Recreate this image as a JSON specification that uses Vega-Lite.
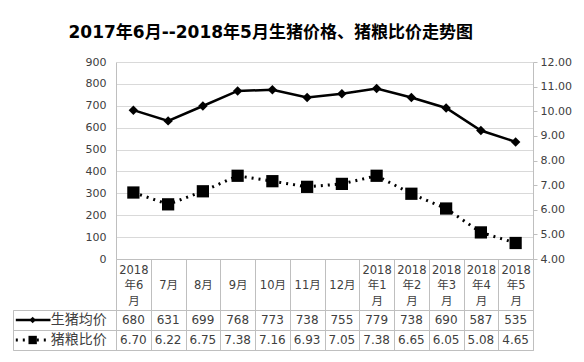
{
  "$schema": "https://vega.github.io/schema/vega-lite/v6.json",
  "padding": {"top": 24, "left": 12, "right": 2, "bottom": 2},
  "background": "white",
  "config": {
    "font": "DejaVu Sans, Noto Sans CJK SC",
    "axis": {"labelColor": "#404040", "labelFontSize": 11, "domainColor": "#bfbfbf", "gridColor": "#d9d9d9", "tickColor": "#bfbfbf"}
  },
  "title": {"text": "2017年6月--2018年5月生猪价格、猪粮比价走势图", "fontSize": 17, "fontWeight": "bold", "color": "#000000", "font": "DejaVu Sans, Noto Sans CJK SC", "anchor": "start", "dx": 56, "offset": 14},
  "datasets": {
    "main": [
      {"month": "2018年6月", "price": 680, "ratio": 6.70},
      {"month": "7月", "price": 631, "ratio": 6.22},
      {"month": "8月", "price": 699, "ratio": 6.75},
      {"month": "9月", "price": 768, "ratio": 7.38},
      {"month": "10月", "price": 773, "ratio": 7.16},
      {"month": "11月", "price": 738, "ratio": 6.93},
      {"month": "12月", "price": 755, "ratio": 7.05},
      {"month": "2018年1月", "price": 779, "ratio": 7.38},
      {"month": "2018年2月", "price": 738, "ratio": 6.65},
      {"month": "2018年3月", "price": 690, "ratio": 6.05},
      {"month": "2018年4月", "price": 587, "ratio": 5.08},
      {"month": "2018年5月", "price": 535, "ratio": 4.65}
    ],
    "table": [
      {"month": "2018年6月", "series": "生猪均价", "value": "680"},
      {"month": "7月", "series": "生猪均价", "value": "631"},
      {"month": "8月", "series": "生猪均价", "value": "699"},
      {"month": "9月", "series": "生猪均价", "value": "768"},
      {"month": "10月", "series": "生猪均价", "value": "773"},
      {"month": "11月", "series": "生猪均价", "value": "738"},
      {"month": "12月", "series": "生猪均价", "value": "755"},
      {"month": "2018年1月", "series": "生猪均价", "value": "779"},
      {"month": "2018年2月", "series": "生猪均价", "value": "738"},
      {"month": "2018年3月", "series": "生猪均价", "value": "690"},
      {"month": "2018年4月", "series": "生猪均价", "value": "587"},
      {"month": "2018年5月", "series": "生猪均价", "value": "535"},
      {"month": "2018年6月", "series": "猪粮比价", "value": "6.70"},
      {"month": "7月", "series": "猪粮比价", "value": "6.22"},
      {"month": "8月", "series": "猪粮比价", "value": "6.75"},
      {"month": "9月", "series": "猪粮比价", "value": "7.38"},
      {"month": "10月", "series": "猪粮比价", "value": "7.16"},
      {"month": "11月", "series": "猪粮比价", "value": "6.93"},
      {"month": "12月", "series": "猪粮比价", "value": "7.05"},
      {"month": "2018年1月", "series": "猪粮比价", "value": "7.38"},
      {"month": "2018年2月", "series": "猪粮比价", "value": "6.65"},
      {"month": "2018年3月", "series": "猪粮比价", "value": "6.05"},
      {"month": "2018年4月", "series": "猪粮比价", "value": "5.08"},
      {"month": "2018年5月", "series": "猪粮比价", "value": "4.65"}
    ],
    "legend": [
      {"series": "生猪均价"},
      {"series": "猪粮比价"}
    ],
    "empty": []
  },
  "columns": 2,
  "bounds": "flush",
  "spacing": {"row": 51, "column": 0},
  "concat": [
    {
      "width": 103,
      "height": 197,
      "data": {"name": "empty"},
      "view": {"stroke": null},
      "mark": "point"
    },
    {
      "width": 417,
      "height": 197,
      "data": {"name": "main"},
      "view": {"stroke": null},
      "encoding": {
        "x": {
          "field": "month", "type": "nominal", "sort": null, "title": null,
          "axis": {
            "labelAngle": 0,
            "labelExpr": "length(datum.label) > 3 ? [slice(datum.label, 0, 4), slice(datum.label, 4, 6), slice(datum.label, 6)] : ['', datum.label, '']",
            "labelBaseline": "middle",
            "labelLineHeight": 15.5,
            "labelFontSize": 11.5,
            "labelColor": "#404040",
            "labelPadding": -40,
            "ticks": true,
            "tickBand": "extent",
            "tickSize": 51,
            "tickColor": "#bfbfbf",
            "domainColor": "#bfbfbf",
            "grid": false
          }
        }
      },
      "layer": [
        {
          "mark": {"type": "line", "color": "#000000", "strokeWidth": 2.5, "point": {"shape": "diamond", "filled": true, "size": 90, "color": "#000000"}},
          "encoding": {
            "y": {
              "field": "price", "type": "quantitative", "title": null,
              "scale": {"domain": [0, 900], "nice": false},
              "axis": {"orient": "left", "values": [0,100,200,300,400,500,600,700,800,900], "grid": true, "domain": true, "ticks": false, "labelPadding": 10}
            }
          }
        },
        {
          "mark": {"type": "line", "color": "#000000", "strokeWidth": 3, "strokeDash": [2, 5], "point": {"shape": "square", "filled": true, "size": 150, "color": "#000000"}},
          "encoding": {
            "y": {
              "field": "ratio", "type": "quantitative", "title": null,
              "scale": {"domain": [4, 12], "nice": false},
              "axis": {"orient": "right", "values": [4,5,6,7,8,9,10,11,12], "format": ".2f", "grid": false, "domain": true, "ticks": true, "tickSize": 4, "labelPadding": 3}
            }
          }
        }
      ],
      "resolve": {"scale": {"y": "independent"}}
    },
    {
      "width": 103,
      "height": 40,
      "data": {"name": "legend"},
      "view": {"stroke": "#bfbfbf"},
      "encoding": {
        "y": {"field": "series", "type": "nominal", "sort": null, "title": null,
          "axis": {"labels": false, "ticks": false, "domain": false, "grid": true, "tickBand": "extent", "gridColor": "#bfbfbf"}}
      },
      "layer": [
        {
          "transform": [{"filter": "datum.series == '生猪均价'"}],
          "mark": {"type": "rule", "color": "#000000", "strokeWidth": 2.5},
          "encoding": {
            "x": {"datum": 3, "type": "quantitative", "scale": {"domain": [0, 103]}, "axis": null},
            "x2": {"datum": 40}
          }
        },
        {
          "transform": [{"filter": "datum.series == '猪粮比价'"}],
          "mark": {"type": "rule", "color": "#000000", "strokeWidth": 3, "strokeDash": [2, 5]},
          "encoding": {
            "x": {"datum": 3, "type": "quantitative"},
            "x2": {"datum": 40}
          }
        },
        {
          "mark": {"type": "point", "filled": true, "color": "#000000", "opacity": 1},
          "encoding": {
            "x": {"datum": 21, "type": "quantitative"},
            "shape": {"field": "series", "type": "nominal", "scale": {"domain": ["生猪均价", "猪粮比价"], "range": ["diamond", "square"]}, "legend": null},
            "size": {"field": "series", "type": "nominal", "scale": {"domain": ["生猪均价", "猪粮比价"], "range": [40, 70]}, "legend": null}
          }
        },
        {
          "mark": {"type": "text", "align": "right", "baseline": "middle", "fontSize": 14, "color": "#404040", "font": "Noto Sans CJK SC"},
          "encoding": {
            "x": {"datum": 100, "type": "quantitative"},
            "text": {"field": "series"}
          }
        }
      ]
    },
    {
      "width": 417,
      "height": 40,
      "data": {"name": "table"},
      "view": {"stroke": "#bfbfbf"},
      "mark": {"type": "text", "fontSize": 12, "color": "#404040", "baseline": "middle"},
      "encoding": {
        "x": {"field": "month", "type": "nominal", "sort": null, "title": null,
          "axis": {"labels": false, "ticks": false, "domain": false, "grid": true, "tickBand": "extent", "gridColor": "#bfbfbf"}},
        "y": {"field": "series", "type": "nominal", "sort": ["生猪均价", "猪粮比价"], "title": null,
          "axis": {"labels": false, "ticks": false, "domain": false, "grid": true, "tickBand": "extent", "gridColor": "#bfbfbf"}},
        "text": {"field": "value"}
      }
    }
  ]
}
